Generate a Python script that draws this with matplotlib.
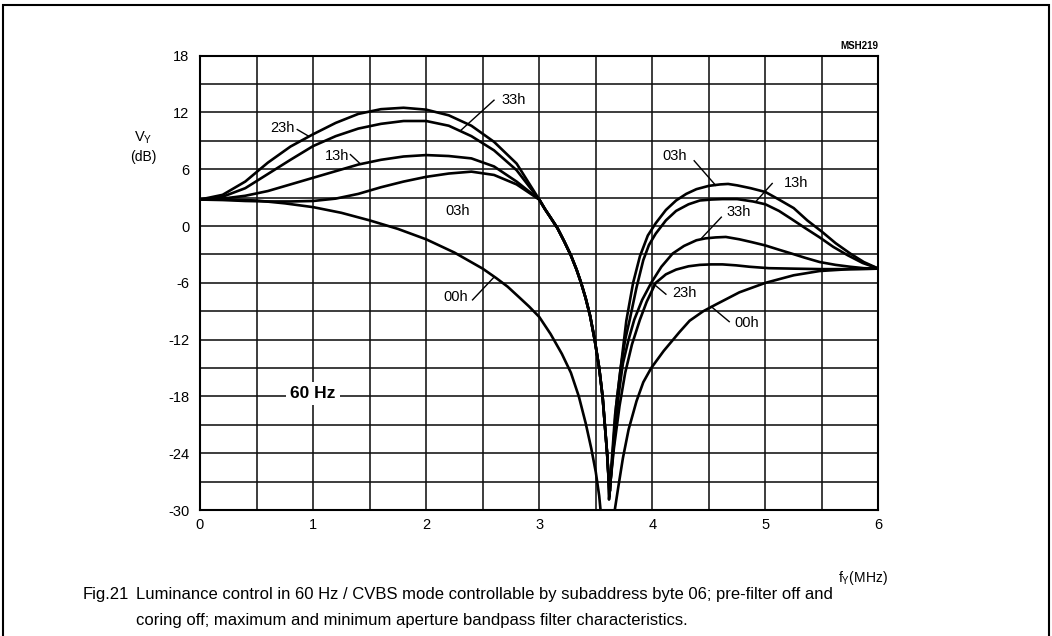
import numpy as np
import matplotlib.pyplot as plt
import matplotlib.patches as patches

plt.rcParams['font.family'] = ['Liberation Sans', 'DejaVu Sans']
plt.rcParams['axes.unicode_minus'] = False

# ---- data (f in MHz, V in dB) ----
# left part of the four aperture curves (shared x)
x_left = [0, 0.2, 0.4, 0.6, 0.8, 1.0, 1.2, 1.4, 1.6, 1.8, 2.0, 2.2, 2.4, 2.6, 2.8, 3.0]
y_left_03h = [2.8, 2.75, 2.65, 2.6, 2.6, 2.65, 2.9, 3.4, 4.1, 4.7, 5.2, 5.55, 5.75, 5.4, 4.4, 2.8]
y_left_13h = [2.8, 2.9, 3.2, 3.7, 4.4, 5.1, 5.8, 6.5, 7.0, 7.35, 7.5, 7.4, 7.15, 6.3, 4.7, 2.8]
y_left_33h = [2.8, 3.1, 4.0, 5.5, 7.0, 8.45, 9.5, 10.3, 10.8, 11.1, 11.1, 10.6, 9.5, 8.0, 5.9, 2.8]
y_left_23h = [2.8, 3.3, 4.7, 6.7, 8.4, 9.7, 10.9, 11.85, 12.35, 12.5, 12.3, 11.7, 10.6, 8.9, 6.6, 2.8]

# common descent into the notch
x_notch = [3.05, 3.10, 3.16, 3.22, 3.28, 3.33, 3.37, 3.41, 3.45, 3.49, 3.53, 3.56, 3.58, 3.60, 3.61]
y_notch = [1.8, 0.9, -0.2, -1.6, -3.1, -4.6, -6.0, -7.6, -9.5, -12.0, -15.0, -18.0, -21.0, -24.0, -26.0]

# notch minimum of each curve
notch_min = {'03h': (3.617, -28.9), '13h': (3.620, -28.6), '33h': (3.622, -28.3), '23h': (3.625, -28.0)}

# right part of each curve
x_right_03h = [3.63, 3.64, 3.67, 3.71, 3.74, 3.77, 3.83, 3.89, 3.96, 4.03, 4.12, 4.21, 4.30, 4.39,
               4.50, 4.60, 4.67, 4.75, 4.87, 5.0, 5.12, 5.25, 5.37, 5.5, 5.62, 5.75, 5.87, 6.0]
y_right_03h = [-27, -25, -20, -16, -13, -10, -6, -3.2, -1.0, 0.3, 1.7, 2.7, 3.4, 3.9,
               4.25, 4.4, 4.45, 4.3, 4.0, 3.6, 2.8, 1.9, 0.6, -0.6, -1.8, -2.9, -3.8, -4.5]

x_right_13h = [3.63, 3.65, 3.68, 3.72, 3.76, 3.80, 3.86, 3.92, 3.97, 4.03, 4.12, 4.21, 4.32, 4.42,
               4.52, 4.62, 4.75, 4.89, 5.0, 5.12, 5.23, 5.35, 5.48, 5.6, 5.73, 5.86, 6.0]
y_right_13h = [-27, -24, -19, -15, -12, -9.9, -6.5, -3.6, -2.0, -0.8, 0.6, 1.6, 2.3, 2.7,
               2.8, 2.85, 2.85, 2.6, 2.3, 1.6, 0.75, -0.2, -1.2, -2.2, -3.1, -3.9, -4.5]

x_right_33h = [3.63, 3.66, 3.70, 3.74, 3.79, 3.84, 3.91, 3.99, 4.08, 4.18, 4.28, 4.39, 4.47, 4.56,
               4.65, 4.77, 4.88, 5.0, 5.12, 5.23, 5.35, 5.48, 5.62, 5.75, 5.87, 6.0]
y_right_33h = [-27, -23, -18, -14.5, -12, -9.9, -7.8, -6.0, -4.3, -2.9, -2.1, -1.5, -1.3, -1.2,
               -1.15, -1.4, -1.7, -2.05, -2.5, -2.9, -3.35, -3.8, -4.1, -4.3, -4.45, -4.5]

x_right_23h = [3.63, 3.66, 3.71, 3.76, 3.82, 3.89, 3.95, 4.03, 4.12, 4.21, 4.32, 4.42, 4.52, 4.62,
               4.74, 4.86, 5.03, 5.25, 5.5, 5.75, 6.0]
y_right_23h = [-27, -23.5, -19, -15.5, -12.5, -9.9, -8.0, -6.0, -5.1, -4.6, -4.25, -4.1, -4.05, -4.05,
               -4.15, -4.3, -4.45, -4.5, -4.55, -4.55, -4.5]

# 00h (no aperture peaking)
x_00h = [0, 0.25, 0.5, 0.75, 1.0, 1.25, 1.5, 1.75, 2.0, 2.25, 2.5, 2.62, 2.72, 2.82, 2.91, 3.0,
         3.1, 3.2, 3.28, 3.35, 3.41, 3.46, 3.5, 3.53, 3.55,
         3.655, 3.70, 3.74, 3.79, 3.86, 3.92, 3.99, 4.10, 4.24, 4.33, 4.45, 4.56, 4.77, 5.0,
         5.25, 5.48, 5.75, 6.0]
y_00h = [2.8, 2.8, 2.7, 2.4, 2.0, 1.4, 0.6, -0.3, -1.4, -2.8, -4.5, -5.5, -6.4, -7.5, -8.5, -9.6,
         -11.4, -13.5, -15.5, -18.0, -20.8, -23.5, -26.0, -28.5, -31.0,
         -31.0, -27.5, -24.5, -21.5, -18.5, -16.5, -15.0, -13.2, -11.2, -10.0, -9.0, -8.3, -7.0, -6.0,
         -5.2, -4.75, -4.55, -4.5]

# curve labels: text, text position, leader start, leader end (None = no leader)
labels = [
    ('33h', (2.77, 13.35), (2.60, 13.3), (2.31, 10.15)),
    ('23h', (0.73, 10.4), (0.86, 10.2), (0.96, 9.5)),
    ('13h', (1.21, 7.4), (1.33, 7.55), (1.42, 6.55)),
    ('03h', (2.28, 1.6), None, None),
    ('00h', (2.26, -7.45), (2.41, -7.8), (2.60, -5.4)),
    ('03h', (4.20, 7.4), (4.37, 6.9), (4.56, 4.3)),
    ('13h', (5.27, 4.5), (5.06, 4.5), (4.92, 2.65)),
    ('33h', (4.76, 1.45), (4.61, 0.94), (4.43, -1.35)),
    ('23h', (4.28, -7.1), (4.12, -7.2), (4.01, -6.1)),
    ('00h', (4.83, -10.25), (4.68, -10.1), (4.52, -8.5)),
]

W, H = 1052, 636
fig = plt.figure(figsize=(W / 100, H / 100), dpi=100)
ax = fig.add_axes([200 / W, 1 - 510 / H, 678.5 / W, 454.3 / H])

lw = 1.9
curves = [
    ('03h', y_left_03h, x_right_03h, y_right_03h),
    ('13h', y_left_13h, x_right_13h, y_right_13h),
    ('33h', y_left_33h, x_right_33h, y_right_33h),
    ('23h', y_left_23h, x_right_23h, y_right_23h),
]
for name, yl, xr, yr in curves:
    mx, my = notch_min[name]
    xs = x_left + x_notch + [mx] + xr
    ys = yl + y_notch + [my] + yr
    ax.plot(xs, ys, color='black', lw=lw, solid_capstyle='round', solid_joinstyle='round')
ax.plot(x_00h, y_00h, color='black', lw=lw, solid_joinstyle='round')

ax.set_xlim(0, 6)
ax.set_ylim(-30, 18)
ax.set_xticks(range(0, 7))
ax.set_xticks(np.arange(0.5, 6, 1.0), minor=True)
ax.set_yticks(range(-30, 19, 6))
ax.set_yticks(range(-27, 18, 6), minor=True)
ax.grid(True, which='both', color='#111111', lw=1.15)
ax.set_axisbelow(True)
ax.tick_params(which='both', length=0)
ax.tick_params(axis='y', pad=7.5, labelsize=10.5)
ax.tick_params(axis='x', pad=6, labelsize=10.5)
for s in ax.spines.values():
    s.set_linewidth(1.5)

for txt, pos, l0, l1 in labels:
    ax.text(pos[0], pos[1], txt, fontsize=10.5, ha='center', va='center')
    if l0 is not None:
        ax.plot([l0[0], l1[0]], [l0[1], l1[1]], color='black', lw=1.0)

ax.text(1.0, -17.7, '60 Hz', fontsize=12.5, fontweight='bold', ha='center', va='center',
        bbox=dict(facecolor='white', edgecolor='none', pad=3))


def fx(px):
    return px / W


def fy(py):
    return 1 - py / H


fig.text(fx(143), fy(138), r'V$_\mathregular{Y}$', fontsize=10.5, ha='center', va='center')
fig.text(fx(143), fy(157), '(dB)', fontsize=10, ha='center', va='center')
fig.text(fx(838), fy(578), r'f$_\mathregular{Y}$(MHz)', fontsize=10, ha='left', va='center')
fig.text(fx(878), fy(46), 'MSH219', fontsize=7, fontweight='bold', ha='right', va='center')
fig.text(fx(83), fy(595), 'Fig.21', fontsize=12, ha='left', va='center')
fig.text(fx(136), fy(595), 'Luminance control in 60 Hz / CVBS mode controllable by subaddress byte 06; '
         'pre-filter off and', fontsize=12, ha='left', va='center')
fig.text(fx(136), fy(620), 'coring off; maximum and minimum aperture bandpass filter characteristics.',
         fontsize=12, ha='left', va='center')

fig.patches.append(patches.Rectangle((fx(3), -0.1), fx(1049) - fx(3), fy(5) + 0.1,
                                     transform=fig.transFigure, fill=False, lw=1.5, color='black'))

fig.savefig('out.png', dpi=100)
